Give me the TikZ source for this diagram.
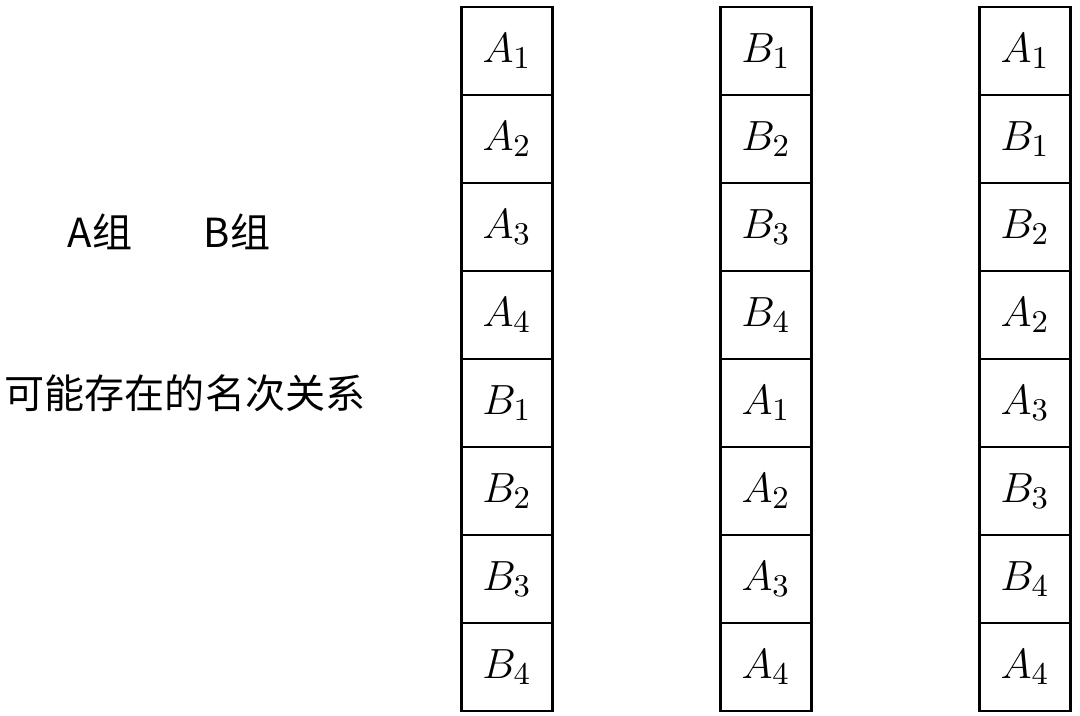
\documentclass[tikz,border=0pt]{standalone}
\usepackage{fontspec}
\newfontfamily\cjk{Noto Sans CJK SC}
\usetikzlibrary{positioning}

\begin{document}
\begin{tikzpicture}[x=0.01cm,y=-0.01cm,
  cell/.style={draw, thick, minimum width=0.91cm, minimum height=0.88cm, inner sep=0pt, font=\fontsize{12.5}{15}\selectfont},
  grp/.style={font=\cjk\fontsize{11.4}{13}\selectfont, inner sep=0pt}]
\useasboundingbox (0,0) rectangle (1080,716);
% left labels
\node[grp] (ga) at (100,232) {A组};
\node[grp] (gb) at (237,232) {B组};
\node[grp] (rel) at (185,393) {可能存在的名次关系};
% three rankings
\foreach \nm [count=\i] in {A_1,A_2,A_3,A_4,B_1,B_2,B_3,B_4}
  \node[cell] (p\i) at (507,{7+88*(\i-0.5)}) {$\nm$};
\foreach \nm [count=\i] in {B_1,B_2,B_3,B_4,A_1,A_2,A_3,A_4}
  \node[cell] (q\i) at (766,{7+88*(\i-0.5)}) {$\nm$};
\foreach \nm [count=\i] in {A_1,B_1,B_2,A_2,A_3,B_3,B_4,A_4}
  \node[cell] (r\i) at (1025,{7+88*(\i-0.5)}) {$\nm$};
\end{tikzpicture}
\end{document}
